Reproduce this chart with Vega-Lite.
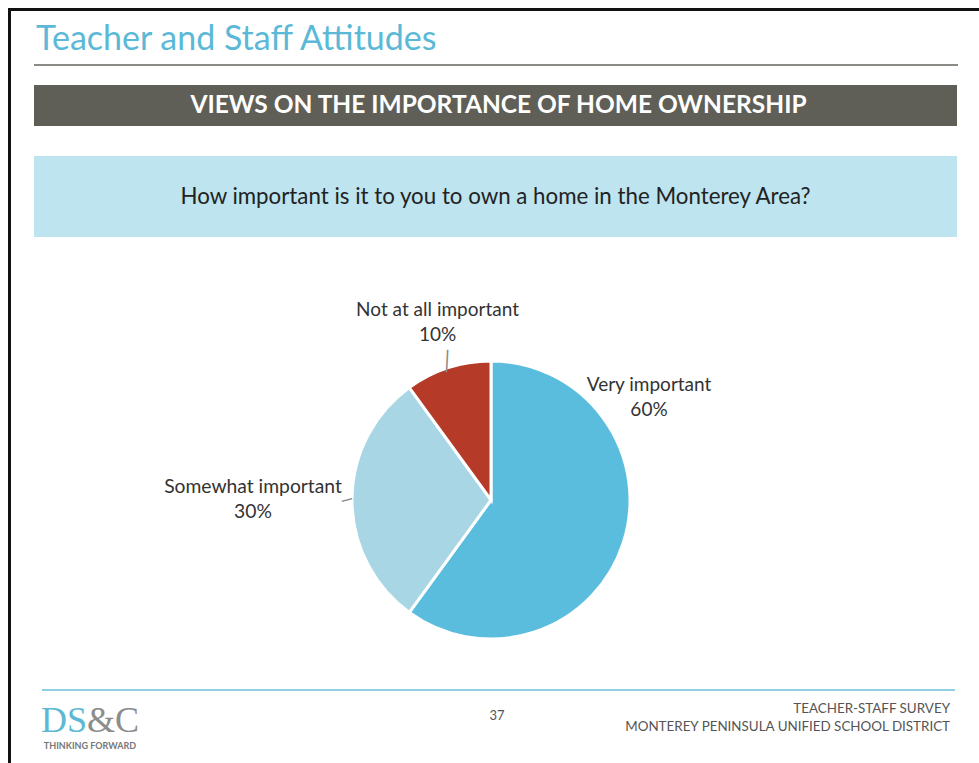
{
  "$schema": "https://vega.github.io/schema/vega-lite/v6.json",
  "background": "white",
  "padding": {"left": 8, "top": 8, "right": 0, "bottom": 0},
  "bounds": "flush",
  "spacing": 0,
  "config": {"view": {"stroke": null}, "font": "Lato"},
  "datasets": {
    "answers": [
      {"category": "Very important", "value": 60, "order": 1, "label": "Very important\n60%"},
      {"category": "Somewhat important", "value": 30, "order": 2, "label": "Somewhat important\n30%"},
      {"category": "Not at all important", "value": 10, "order": 3, "label": "Not at all important\n10%"}
    ],
    "blank": [{}],
    "none": []
  },
  "vconcat": [
    {"width": 971, "height": 3, "view": {"fill": "#111111"}, "data": {"name": "none"}, "mark": "rect"},
    {
      "hconcat": [
        {"width": 3, "height": 752, "view": {"fill": "#111111"}, "data": {"name": "none"}, "mark": "rect"},
        {
          "vconcat": [
            {"width": 1, "height": 53, "data": {"name": "none"}, "mark": "rect"},
            {
              "width": 924, "height": 2, "view": {"fill": "#8C8A86"},
              "title": {"text": "Teacher and Staff Attitudes", "anchor": "start", "frame": "group", "fontSize": 34, "font": "Lato", "fontWeight": "normal", "color": "#5BB9D7", "offset": 7, "dx": 2},
              "data": {"name": "none"}, "mark": "rect"
            },
            {"width": 1, "height": 19, "data": {"name": "none"}, "mark": "rect"},
            {
              "width": 923, "height": 41, "view": {"fill": "#5F5F58"},
              "data": {"name": "blank"},
              "mark": {"type": "text", "text": "VIEWS ON THE IMPORTANCE OF HOME OWNERSHIP", "color": "white", "fontSize": 24.5, "fontWeight": "bold", "font": "Lato", "dx": 3}
            },
            {"width": 1, "height": 30, "data": {"name": "none"}, "mark": "rect"},
            {
              "width": 923, "height": 81, "view": {"fill": "#BDE4EF"},
              "data": {"name": "blank"},
              "mark": {"type": "text", "text": "How important is it to you to own a home in the Monterey Area?", "color": "#222222", "fontSize": 22.3, "font": "Lato"}
            },
            {"width": 1, "height": 74, "data": {"name": "none"}, "mark": "rect"},
            {
              "width": 914, "height": 378,
              "data": {"name": "answers"},
              "layer": [
                {
                  "mark": {"type": "arc", "radius": 139, "stroke": "white", "strokeWidth": 3},
                  "encoding": {
                    "theta": {"field": "value", "type": "quantitative", "stack": true},
                    "order": {"field": "order", "type": "quantitative"},
                    "color": {"field": "category", "type": "nominal", "legend": null,
                      "scale": {"domain": ["Very important", "Somewhat important", "Not at all important"], "range": ["#5BBDDD", "#A8D6E4", "#B53A27"]}}
                  }
                },
                {
                  "mark": {"type": "text", "radius": 151, "font": "DejaVu Sans", "fontSize": 19, "color": "#8A8A8A", "angle": 3, "dx": 3, "dy": 5},
                  "encoding": {
                    "theta": {"field": "value", "type": "quantitative", "stack": true},
                    "order": {"field": "order", "type": "quantitative"},
                    "text": {"condition": {"test": "datum.category === 'Not at all important'", "value": "│"}, "value": ""}
                  }
                },
                {
                  "mark": {"type": "text", "radius": 144, "font": "DejaVu Sans", "fontSize": 17, "color": "#8A8A8A", "angle": -15, "dy": 1},
                  "encoding": {
                    "theta": {"field": "value", "type": "quantitative", "stack": true},
                    "order": {"field": "order", "type": "quantitative"},
                    "text": {"condition": {"test": "datum.category === 'Somewhat important'", "value": "─"}, "value": ""}
                  }
                },
                {
                  "mark": {"type": "text", "radius": 186, "dx": 4, "dy": -13, "fontSize": 19, "color": "#333333", "lineBreak": "\n", "lineHeight": 25},
                  "encoding": {
                    "theta": {"field": "value", "type": "quantitative", "stack": true},
                    "order": {"field": "order", "type": "quantitative"},
                    "text": {"condition": {"test": "datum.category === 'Not at all important'", "field": "label", "type": "nominal"}, "value": ""}
                  }
                },
                {
                  "mark": {"type": "text", "radius": 238, "dy": -13, "fontSize": 19.3, "color": "#333333", "lineBreak": "\n", "lineHeight": 25},
                  "encoding": {
                    "theta": {"field": "value", "type": "quantitative", "stack": true},
                    "order": {"field": "order", "type": "quantitative"},
                    "text": {"condition": {"test": "datum.category === 'Somewhat important'", "field": "label", "type": "nominal"}, "value": ""}
                  }
                },
                {
                  "mark": {"type": "text", "dx": 158, "dy": -115, "fontSize": 19, "color": "#333333", "lineBreak": "\n", "lineHeight": 25},
                  "encoding": {
                    "text": {"condition": {"test": "datum.category === 'Very important'", "field": "label", "type": "nominal"}, "value": ""}
                  }
                }
              ]
            },
            {
              "hconcat": [
                {"width": 8, "height": 2, "data": {"name": "none"}, "mark": "rect"},
                {"width": 913, "height": 2, "view": {"fill": "#8ECFE3"}, "data": {"name": "none"}, "mark": "rect"}
              ],
              "spacing": 0,
              "bounds": "flush"
            },
            {
              "hconcat": [
                {
                  "width": 106, "height": 66,
                  "data": {"name": "blank"},
                  "layer": [
                    {"mark": {"type": "text", "text": "DS", "align": "right", "font": "Liberation Serif", "fontSize": 36, "color": "#5DB9D3", "dy": -1}},
                    {"mark": {"type": "text", "text": "&C", "align": "left", "font": "Liberation Serif", "fontSize": 36, "color": "#8C8C8C", "dy": -1}},
                    {"mark": {"type": "text", "text": "THINKING FORWARD", "font": "Lato", "fontSize": 9, "fontWeight": "bold", "color": "#777777", "dx": 3, "dy": 24}}
                  ]
                },
                {
                  "width": 714, "height": 66,
                  "data": {"name": "blank"},
                  "mark": {"type": "text", "text": "37", "font": "Lato", "fontSize": 13, "color": "#555555", "dy": -6}
                },
                {
                  "width": 103, "height": 66,
                  "data": {"name": "blank"},
                  "mark": {"type": "text", "text": ["TEACHER-STAFF SURVEY", "MONTEREY PENINSULA UNIFIED SCHOOL DISTRICT"], "align": "right", "font": "Lato", "fontSize": 13.4, "lineHeight": 18, "color": "#555555", "dx": -7, "dy": -13},
                  "encoding": {"x": {"value": "width"}}
                }
              ],
              "spacing": 0,
              "bounds": "flush"
            }
          ],
          "spacing": 0,
          "bounds": "flush"
        }
      ],
      "spacing": 23,
      "bounds": "flush"
    }
  ]
}
